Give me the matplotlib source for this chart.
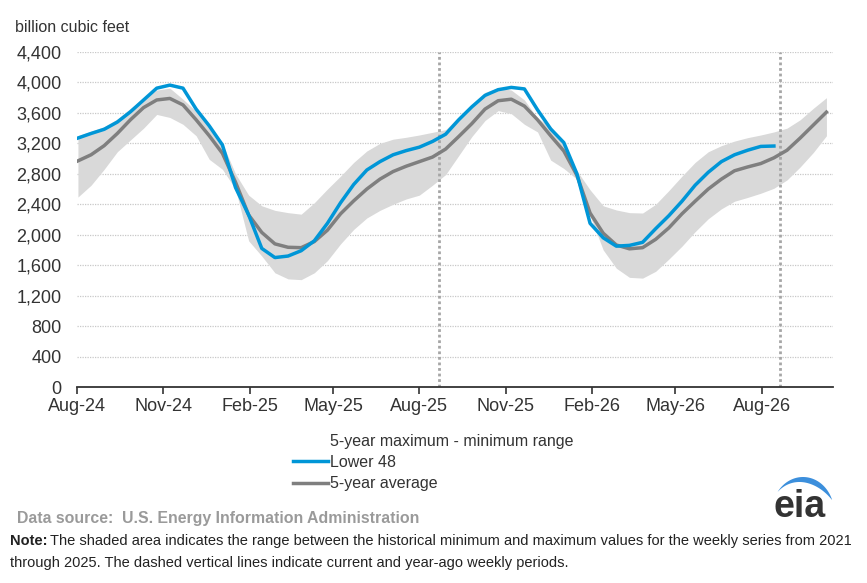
import numpy as np
import pandas as pd
import matplotlib
matplotlib.use("Agg")
import matplotlib.pyplot as plt
import matplotlib.dates as mdates
from matplotlib.patches import Patch, Polygon

plt.rcParams["font.family"] = ["Liberation Sans", "DejaVu Sans"]

# ============================================================
# data (weekly storage, sampled every two weeks)
# ============================================================
dates = pd.date_range("2024-08-02", periods=58, freq="14D")

lower48 = [3270, 3330, 3385, 3480, 3615, 3770, 3925, 3965, 3925, 3650,
           3430, 3180, 2620, 2260, 1820, 1700, 1720, 1790, 1920, 2150,
           2420, 2660, 2850, 2960, 3050, 3105, 3150, 3225, 3320, 3510,
           3680, 3830, 3905, 3935, 3915, 3640, 3390, 3210, 2800, 2150,
           1960, 1850, 1860, 1900, 2080, 2250, 2440, 2650, 2820, 2960,
           3050, 3110, 3160, 3165]

avg5 = [2970, 3050, 3170, 3330, 3510, 3670, 3770, 3790, 3705, 3510,
        3300, 3070, 2690, 2260, 2030, 1880, 1835, 1830, 1910, 2060,
        2275, 2445, 2600, 2730, 2830, 2900, 2960, 3020, 3125, 3290,
        3460, 3650, 3760, 3780, 3690, 3510, 3300, 3100, 2780, 2285,
        2020, 1865, 1815, 1830, 1940, 2090, 2275, 2440, 2600, 2730,
        2840, 2890, 2935, 3010, 3110, 3270, 3440, 3610]

range_min = [2495, 2650, 2860, 3090, 3245, 3400, 3580, 3540, 3450, 3300,
             2990, 2860, 2600, 1920, 1720, 1500, 1420, 1410, 1500, 1660,
             1880, 2070, 2220, 2320, 2400, 2470, 2520, 2650, 2790, 3040,
             3290, 3500, 3630, 3590, 3450, 3350, 2980, 2870, 2730, 2250,
             1800, 1560, 1440, 1430, 1520, 1680, 1850, 2040, 2210, 2340,
             2440, 2490, 2545, 2610, 2720, 2890, 3080, 3300]

range_max = [3300, 3360, 3420, 3520, 3660, 3790, 3900, 3925, 3780, 3620,
             3440, 3200, 2800, 2520, 2380, 2320, 2290, 2270, 2420, 2600,
             2770, 2950, 3100, 3200, 3255, 3280, 3310, 3345, 3380, 3550,
             3700, 3870, 3930, 3900, 3770, 3530, 3420, 3170, 2840, 2590,
             2380, 2325, 2290, 2285, 2400, 2580, 2770, 2950, 3090, 3170,
             3230, 3275, 3310, 3350, 3400, 3510, 3660, 3800]

marker_dates = ["2025-08-22", "2026-08-21"]   # year-ago and current week

y_ticks = list(range(0, 4401, 400))

# ============================================================
# figure
# ============================================================
W, H = 867, 583
fig = plt.figure(figsize=(W / 100, H / 100), dpi=100)
ax = fig.add_axes([77 / W, 1 - 387 / H, (833 - 77) / W, (387 - 52) / H])

blue = "#0096d7"
grey = "#7f7f7f"

ax.fill_between(dates, range_min, range_max, color="#d9d9d9", lw=0, zorder=1)
ln_l48, = ax.plot(dates[:len(lower48)], lower48, color=blue, lw=2.5, zorder=4,
                  solid_joinstyle="round")
ln_avg, = ax.plot(dates, avg5, color=grey, lw=2.5, zorder=3, solid_joinstyle="round")

for d in marker_dates:
    ax.axvline(pd.Timestamp(d), color="#a6a6a6", lw=2, ls=(0, (1, 1)), zorder=2)

ax.set_ylim(0, 4400)
ax.set_xlim(pd.Timestamp("2024-08-01"), pd.Timestamp("2026-10-16"))
ax.set_yticks(y_ticks)
ax.set_yticklabels([f"{v:,}" for v in y_ticks])
ax.yaxis.grid(True, color="#c8c8c8", lw=0.9, ls=(0, (1, 1)), zorder=0)
ax.set_axisbelow(True)

ax.xaxis.set_major_locator(mdates.MonthLocator(bymonth=[2, 5, 8, 11]))
ax.xaxis.set_major_formatter(mdates.DateFormatter("%b-%y"))

for s in ["top", "right", "left"]:
    ax.spines[s].set_visible(False)
ax.spines["bottom"].set_color("#333333")
ax.spines["bottom"].set_linewidth(1.3)
ax.tick_params(axis="y", length=0, pad=11, labelsize=13, labelcolor="#333333")
ax.tick_params(axis="x", length=5, width=1.2, color="#333333", pad=3,
               labelsize=13, labelcolor="#333333")

fig.text(15 / W, 1 - 28 / H, "billion cubic feet", fontsize=11.5, color="#333333",
         va="center", ha="left")

# legend
handles = [Patch(facecolor="none", edgecolor="none"), ln_l48, ln_avg]
labels = ["5-year maximum - minimum range", "Lower 48", "5-year average"]
fig.legend(handles, labels, loc="upper left", bbox_to_anchor=(293 / W, 1 - 434 / H),
           frameon=False, fontsize=11.5, handlelength=2.2, handletextpad=0.12,
           labelspacing=0.38, borderpad=0, borderaxespad=0, labelcolor="#333333")

# source and note
fig.text(17 / W, 1 - 518 / H, "Data source:  U.S. Energy Information Administration",
         fontsize=11.4, fontweight="bold", color="#9a9a9a", va="center", ha="left")

renderer = fig.canvas.get_renderer()
note_b = fig.text(10 / W, 1 - 541 / H, "Note:", fontsize=10.5, fontweight="bold",
                  color="#222222", va="center", ha="left")
bb = note_b.get_window_extent(renderer)
fig.text(bb.x1 / W + 3 / W, 1 - 541 / H,
         "The shaded area indicates the range between the historical minimum and maximum values for the weekly series from 2021",
         fontsize=10.5, color="#222222", va="center", ha="left")
fig.text(10 / W, 1 - 563 / H,
         "through 2025. The dashed vertical lines indicate current and year-ago weekly periods.",
         fontsize=10.5, color="#222222", va="center", ha="left")

# eia logo
fig.text(800 / W, 1 - 507 / H, "eia", fontsize=27, fontweight="bold", color="#333333",
         va="center", ha="center")
t = np.radians(np.linspace(20, 145, 80))
u = (t - t[0]) / (t[-1] - t[0])
th = 6.5 * np.sin(np.pi * u) ** 0.9 * (1.15 - 0.6 * u)
cx, cy, rx, ry = 803, 512, 31, 35
ox, oy = cx + rx * np.cos(t), cy - ry * np.sin(t)
ix, iy = cx + (rx - th) * np.cos(t), cy - (ry - th) * np.sin(t)
px = np.concatenate([ox, ix[::-1]]) / W
py = 1 - np.concatenate([oy, iy[::-1]]) / H
fig.patches.append(Polygon(np.column_stack([px, py]), closed=True, color="#3c8fdc",
                           lw=0, transform=fig.transFigure, figure=fig))

fig.savefig("out.png", dpi=100)
